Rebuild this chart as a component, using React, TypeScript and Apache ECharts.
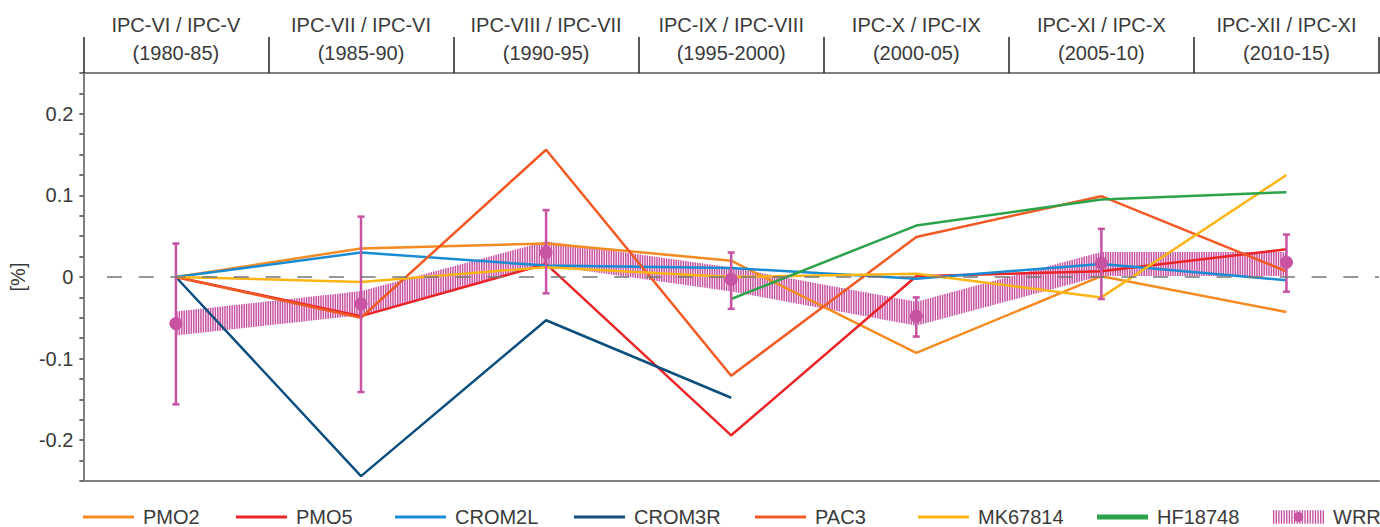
import React, { useEffect, useRef } from 'react';
import * as echarts from 'echarts';

// Planning periods (ratio of consecutive IPC editions) and their year spans
const phases = ['IPC-VI / IPC-V', 'IPC-VII / IPC-VI', 'IPC-VIII / IPC-VII', 'IPC-IX / IPC-VIII', 'IPC-X / IPC-IX', 'IPC-XI / IPC-X', 'IPC-XII / IPC-XI'];
const periods = ['(1980-85)', '(1985-90)', '(1990-95)', '(1995-2000)', '(2000-05)', '(2005-10)', '(2010-15)'];

// Relative change [%] per model
const pmo2 = [0, 0.035, 0.041, 0.020, -0.093, 0.001, -0.043];
const pmo5 = [0, -0.048, 0.016, -0.194, 0.001, 0.007, 0.034];
const crom2l = [0, 0.030, 0.014, 0.011, -0.002, 0.016, -0.004];
const crom3r = [0, -0.244, -0.053, -0.148, null, null, null];
const pac3 = [0, -0.050, 0.156, -0.121, 0.049, 0.099, 0.007];
const mk67814 = [0, -0.006, 0.012, 0.0, 0.004, -0.025, 0.125];
const hf18748 = [null, null, null, -0.027, 0.063, 0.095, 0.104];

// WRR: mean with error range, plus the central line of the shaded band
const wrrMean = [-0.057, -0.033, 0.030, -0.003, -0.048, 0.017, 0.018];
const wrrLow = [-0.156, -0.141, -0.020, -0.039, -0.073, -0.027, -0.018];
const wrrHigh = [0.041, 0.074, 0.082, 0.030, -0.025, 0.059, 0.052];
const wrrBand = [-0.057, -0.032, 0.029, -0.003, -0.045, 0.016, 0.016];

const FONT = '"Liberation Sans", Arial, sans-serif';
const TEXT = '#3a3a3a';
const MAGENTA = '#c853a3';

const lineSeries = [
  { name: 'PMO2', data: pmo2, color: '#f58b23' },
  { name: 'PMO5', data: pmo5, color: '#ec2428' },
  { name: 'CROM2L', data: crom2l, color: '#1a8cd4' },
  { name: 'CROM3R', data: crom3r, color: '#0c4f7d' },
  { name: 'PAC3', data: pac3, color: '#f15a24' },
  { name: 'MK67814', data: mk67814, color: '#fdb515' },
  { name: 'HF18748', data: hf18748, color: '#2ca34a' },
];

// Hatched legend glyph for WRR: vertical stripes with a dot in the middle
const wrrIcon = (() => {
  const w = 52;
  const h = 14;
  const sw = 1.4;
  const n = 20;
  const step = (w - sw) / (n - 1);
  let d = '';
  for (let k = 0; k < n; k++) {
    const x = k * step;
    d += `M${x.toFixed(2)} 0h${sw}v${h}h-${sw}Z`;
  }
  const r = 5;
  d += `M${w / 2 - r} ${h / 2}a${r} ${r} 0 1 1 ${2 * r} 0a${r} ${r} 0 1 1 -${2 * r} 0Z`;
  return 'path://' + d;
})();

const legendSlots = [
  { name: 'PMO2', left: 83, h: 3, icon: 'rect' },
  { name: 'PMO5', left: 236, h: 3, icon: 'rect' },
  { name: 'CROM2L', left: 395, h: 3, icon: 'rect' },
  { name: 'CROM3R', left: 574, h: 3, icon: 'rect' },
  { name: 'PAC3', left: 755, h: 3, icon: 'rect' },
  { name: 'MK67814', left: 918, h: 3, icon: 'rect' },
  { name: 'HF18748', left: 1097, h: 5, icon: 'rect' },
  { name: 'WRR', left: 1273, h: 14, icon: wrrIcon },
];

export default function App() {
  const ref = useRef<HTMLDivElement>(null);

  useEffect(() => {
    if (!ref.current) return;
    const chart = echarts.init(ref.current, null, { renderer: 'svg' });

    const categories = phases.map((p, i) => `${p}\n${periods[i]}`);

    const bandSegments = wrrBand.slice(0, -1).map((v, i) => [i, v, wrrBand[i + 1]]);
    const errorData = wrrMean.map((_, i) => [i, wrrLow[i], wrrHigh[i]]);

    const option: any = {
      animation: false,
      textStyle: { fontFamily: FONT },
      grid: { left: 83, right: 1, top: 73, bottom: 46, containLabel: false },
      legend: legendSlots.map((s) => ({
        left: s.left,
        top: 507,
        selectedMode: false,
        itemWidth: 51,
        itemHeight: s.h,
        itemGap: 0,
        padding: 0,
        itemStyle: { borderWidth: 0 },
        data: [{ name: s.name, icon: s.icon }],
        textStyle: { fontFamily: FONT, fontSize: 20, color: TEXT, lineHeight: 20, padding: [0, 0, 0, 4] },
      })),
      xAxis: [
        {
          type: 'category',
          position: 'bottom',
          data: categories,
          boundaryGap: true,
          axisLine: { show: true, onZero: false, lineStyle: { color: '#808080', width: 2 } },
          axisTick: { show: false },
          axisLabel: { show: false },
          splitLine: { show: false },
        },
        {
          type: 'category',
          position: 'top',
          data: categories,
          boundaryGap: true,
          axisLine: { show: true, onZero: false, lineStyle: { color: '#808080', width: 2 } },
          axisTick: { show: true, interval: 0, length: 36, lineStyle: { color: '#222222', width: 1.5 } },
          axisLabel: {
            show: true,
            interval: 0,
            margin: 6,
            fontFamily: FONT,
            fontSize: 20,
            lineHeight: 28,
            color: TEXT,
          },
          splitLine: { show: false },
        },
      ],
      yAxis: {
        type: 'value',
        min: -0.25,
        max: 0.25,
        interval: 0.025,
        name: '[%]',
        nameLocation: 'middle',
        nameRotate: 90,
        nameGap: 46,
        nameTextStyle: { fontFamily: FONT, fontSize: 20, color: TEXT },
        axisLine: { show: true, onZero: false, lineStyle: { color: '#808080', width: 2 } },
        axisTick: { show: true, length: 4, lineStyle: { color: '#444444', width: 1.5 } },
        splitLine: { show: false },
        axisLabel: {
          margin: 10,
          fontFamily: FONT,
          fontSize: 20,
          color: TEXT,
          formatter: (v: number) => {
            const t = v * 10;
            if (Math.abs(t - Math.round(t)) > 1e-6) return '';
            const r = Math.round(t) / 10;
            return String(r === 0 ? 0 : r);
          },
        },
      },
      series: [
        {
          name: 'WRR',
          type: 'custom',
          data: bandSegments,
          encode: { x: 0, y: [1, 2] },
          itemStyle: { color: MAGENTA },
          silent: true,
          z: 1,
          renderItem: (params: any, api: any) => {
            const i = api.value(0);
            const a = api.coord([i, api.value(1)]);
            const b = api.coord([i + 1, api.value(2)]);
            const half = 12;
            const step = 2.4;
            const left = params.coordSys.x;
            const isLast = i + 1 === wrrBand.length - 1;
            const children: any[] = [];
            let x = left + Math.ceil((a[0] - left) / step - 1e-9) * step;
            while (x < b[0] - 1e-6 || (isLast && x <= b[0] + 1e-6)) {
              const t = (x - a[0]) / (b[0] - a[0]);
              const yc = a[1] + (b[1] - a[1]) * t;
              children.push({
                type: 'line',
                shape: { x1: x, y1: yc - half, x2: x, y2: yc + half },
                style: { stroke: MAGENTA, lineWidth: 1.5 },
              });
              x += step;
            }
            return { type: 'group', children };
          },
        },
        ...lineSeries.map((s, idx) => ({
          name: s.name,
          type: 'line',
          data: s.data,
          symbol: 'none',
          connectNulls: false,
          z: 2,
          itemStyle: { color: s.color },
          lineStyle: { color: s.color, width: 2.5 },
          emphasis: { disabled: true },
          ...(idx === 0
            ? {
                markLine: {
                  silent: true,
                  symbol: 'none',
                  label: { show: false },
                  lineStyle: { color: '#777777', type: [15, 16.7], width: 1.5 },
                  emphasis: { disabled: true },
                  data: [{ yAxis: 0, x: 107 }],
                },
              }
            : {}),
        })),
        {
          name: 'WRR',
          type: 'custom',
          data: errorData,
          encode: { x: 0, y: [1, 2] },
          itemStyle: { color: MAGENTA },
          silent: true,
          z: 3,
          renderItem: (_params: any, api: any) => {
            const i = api.value(0);
            const lo = api.coord([i, api.value(1)]);
            const hi = api.coord([i, api.value(2)]);
            const cap = 3.5;
            const style = { stroke: MAGENTA, lineWidth: 2.5 };
            return {
              type: 'group',
              children: [
                { type: 'line', shape: { x1: lo[0], y1: lo[1], x2: hi[0], y2: hi[1] }, style },
                { type: 'line', shape: { x1: lo[0] - cap, y1: lo[1], x2: lo[0] + cap, y2: lo[1] }, style },
                { type: 'line', shape: { x1: hi[0] - cap, y1: hi[1], x2: hi[0] + cap, y2: hi[1] }, style },
              ],
            };
          },
        },
        {
          name: 'WRR',
          type: 'scatter',
          data: wrrMean,
          symbol: 'circle',
          symbolSize: 13,
          itemStyle: { color: MAGENTA, opacity: 1 },
          silent: true,
          z: 4,
        },
      ],
    };

    chart.setOption(option);
    return () => chart.dispose();
  }, []);

  return (
    <div
      ref={ref}
      style={{ position: 'absolute', left: 0, top: 0, width: 1380, height: 527, background: '#ffffff' }}
    />
  );
}
